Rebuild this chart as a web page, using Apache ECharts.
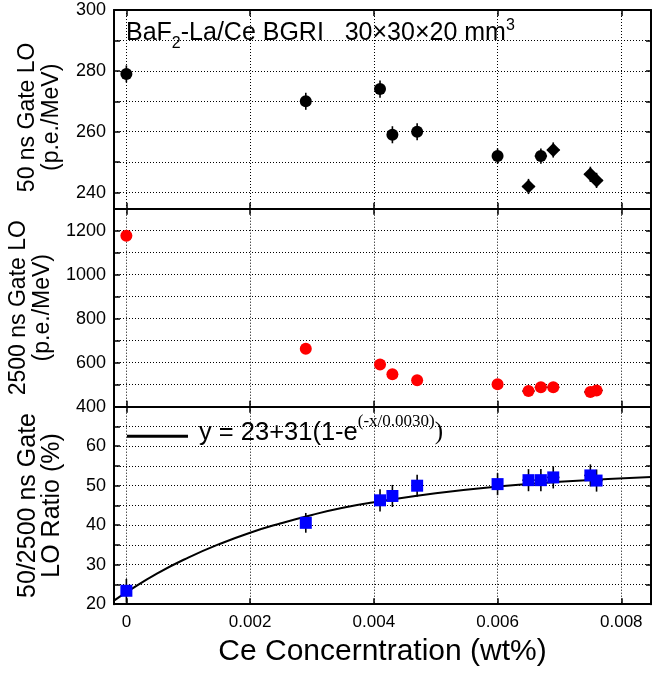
<!DOCTYPE html>
<html>
<head>
<meta charset="utf-8">
<script src="https://cdn.jsdelivr.net/npm/echarts@6/dist/echarts.min.js"></script>
<style>html,body{margin:0;padding:0;background:#fff}#c{width:659px;height:673px}</style>
</head>
<body>
<div id="c"></div>
<script>
// ---- data ----
const ceConc   = [0, 0.0029, 0.0041, 0.0043, 0.0047, 0.0060, 0.0065, 0.0067, 0.0069, 0.0075, 0.0076];
const ceErr    = [0, 0, 0, 0, 0, 0, 0.0001, 0.0001, 0.0001, 0.0001, 0.0001];
const lo50     = [279, 270, 274, 259, 260, 252, 242, 252, 254, 246, 244];
const lo50Err  = [2.8, 2.8, 2.8, 2.8, 2.8, 2.5, 2.5, 2.5, 2.5, 2.5, 2.5];
const lo2500   = [1177, 663, 592, 547, 520, 502, 471, 488, 488, 467, 474];
const ratio    = [23.4, 40.6, 46.3, 47.4, 50.0, 50.4, 51.4, 51.4, 52.1, 52.6, 51.3];
const ratioErr = [3.0, 2.5, 2.8, 2.8, 2.8, 2.8, 2.8, 2.8, 2.8, 2.8, 2.8];
// fitted curve as drawn: y = 23+31(1-e^(-x/0.0030))
const fitX = [-0.0002, 0, 0.0005, 0.001, 0.0015, 0.002, 0.0025, 0.003, 0.0035, 0.004, 0.005, 0.006, 0.007, 0.00848];
const fitY = [20.9, 23.0, 27.8, 31.8, 35.2, 38.1, 40.5, 42.6, 44.4, 45.8, 48.1, 49.8, 51.0, 52.2];
// tick labels
const xTickLabels   = [0, 0.002, 0.004, 0.006, 0.008];
const lo50Labels    = [240, 260, 280, 300];
const lo50Minor     = [250, 270, 290];
const lo2500Labels  = [400, 600, 800, 1000, 1200];
const lo2500Minor   = [500, 700, 900, 1100];
const ratioLabels   = [20, 30, 40, 50, 60];
const ratioMinor    = [25, 35, 45, 55, 65];

// ---- styling helpers ----
const FONT = 'Liberation Sans, Arial, sans-serif';
const SERIF = 'Liberation Serif, Times New Roman, serif';
const diamondIdx = [6, 8, 9, 10];

const X_MIN = -0.0002, X_MAX = 0.00848;
const grids = [
  {left: 114, right: 8, top: 10, height: 198.7, outerBoundsMode: 'none'},
  {left: 114, right: 8, top: 208.7, height: 198, outerBoundsMode: 'none'},
  {left: 114, right: 8, top: 406.7, height: 197.5, outerBoundsMode: 'none'}
];
const yRanges = [
  {min: 234.7, max: 300, labels: lo50Labels, minor: lo50Minor, split: 3,
   name: '50 ns Gate LO\n(p.e./MeV)', pad: [0, 16, 0, 0], fs: 23},
  {min: 400, max: 1300, labels: lo2500Labels, minor: lo2500Minor, interval: 200,
   name: '2500 ns Gate LO\n(p.e./MeV)', pad: [0, 0, 0, 0], fs: 23},
  {min: 20, max: 70, labels: ratioLabels, minor: ratioMinor, interval: 10,
   name: '50/2500 ns Gate\nLO Ratio (%)', pad: [0, 0, 0, 0], fs: 25}
];

const axisLine = {show: true, onZero: false, lineStyle: {color: '#000', width: 2}};
const dotted = {show: true, lineStyle: {color: '#000', width: 1, type: [1, 2]}};

const xAxes = [], yAxes = [];
grids.forEach((g, gi) => {
  const last = gi === 2;
  xAxes.push({
    type: 'value', gridIndex: gi, position: 'bottom', min: X_MIN, max: X_MAX, splitNumber: 4,
    axisLine,
    axisTick: {show: true, inside: true, length: 6, lineStyle: {color: '#000', width: 1.5}, customValues: xTickLabels},
    axisLabel: last ? {show: true, customValues: xTickLabels, fontSize: 17, fontFamily: FONT, color: '#000', margin: 10,
                       formatter: v => String(v)} : {show: false},
    splitLine: dotted,
    name: last ? 'Ce Concerntration (wt%)' : '',
    nameLocation: 'middle', nameGap: 33,
    nameTextStyle: {fontSize: 30, fontFamily: FONT, color: '#000'}
  });
  xAxes.push({
    type: 'value', gridIndex: gi, position: 'top', min: X_MIN, max: X_MAX, splitNumber: 4,
    axisLine,
    axisTick: {show: true, inside: true, length: 6, lineStyle: {color: '#000', width: 1.5}, customValues: xTickLabels},
    axisLabel: {show: false}, splitLine: {show: false}
  });
  const r = yRanges[gi];
  const ticks = r.labels.concat(r.minor);
  const base = {type: 'value', gridIndex: gi, min: r.min, max: r.max};
  if (r.interval) base.interval = r.interval; else base.splitNumber = r.split;
  yAxes.push(Object.assign({}, base, {
    position: 'left', axisLine,
    axisTick: {show: true, inside: true, length: 6, lineStyle: {color: '#000', width: 1.5}, customValues: ticks},
    axisLabel: {show: true, customValues: r.labels, fontSize: 18, fontFamily: FONT, color: '#000', margin: 8,
                formatter: v => String(v)},
    splitLine: dotted,
    name: r.name, nameLocation: 'middle', nameRotate: 90, nameGap: 50,
    nameTextStyle: {fontSize: r.fs, lineHeight: 24, fontFamily: FONT, color: '#000', align: 'center', padding: r.pad}
  }));
  yAxes.push(Object.assign({}, base, {
    position: 'right', axisLine,
    axisTick: {show: true, inside: true, length: 5, lineStyle: {color: '#000', width: 1.5}, customValues: ticks},
    axisLabel: {show: false}, splitLine: {show: false}
  }));
});

function errRender(params, api) {
  const x = api.value(0), y = api.value(1), ey = api.value(2), ex = api.value(3);
  const ch = [];
  const st = {stroke: '#000', lineWidth: 1.6};
  if (ey > 0) {
    const a = api.coord([x, y - ey]), b = api.coord([x, y + ey]);
    ch.push({type: 'line', shape: {x1: a[0], y1: a[1], x2: b[0], y2: b[1]}, style: st});
  }
  if (ex > 0) {
    const a = api.coord([x - ex, y]), b = api.coord([x + ex, y]);
    ch.push({type: 'line', shape: {x1: a[0], y1: a[1], x2: b[0], y2: b[1]}, style: st});
  }
  return {type: 'group', children: ch};
}

const topData = ceConc.map((x, i) => ({
  value: [x, lo50[i]],
  symbol: diamondIdx.includes(i) ? 'diamond' : 'circle',
  symbolSize: diamondIdx.includes(i) ? 14 : 12
}));

const option = {
  animation: false,
  backgroundColor: '#fff',
  grid: grids,
  xAxis: xAxes,
  yAxis: yAxes,
  legend: {
    show: true, left: 127, top: 413, padding: 0, selectedMode: false,
    itemWidth: 61, itemHeight: 3,
    data: [{name: 'fit', icon: 'rect'}],
    formatter: () => '{a|y = 23+31(1-e}{b|(-x/0.0030)}{c|)}',
    textStyle: {
      padding: [0, 0, 15.5, 6], color: '#000',
      rich: {
        a: {fontSize: 25.5, fontFamily: FONT, padding: [9, 0, 0, 0], verticalAlign: 'top', color: '#000'},
        b: {fontSize: 17, fontFamily: SERIF, padding: [2, 0, 0, 0], verticalAlign: 'top', color: '#000'},
        c: {fontSize: 25, fontFamily: SERIF, padding: [9, 0, 0, 0], verticalAlign: 'top', color: '#000'}
      }
    }
  },
  graphic: [{
    type: 'text', left: 126, top: 18, silent: true,
    style: {
      text: '{a|BaF}{s|2}{a|-La/Ce BGRI   30×30×20 mm}{p|3}',
      rich: {
        a: {fontSize: 25, fontFamily: FONT, padding: [2.5, 0, 0, 0], verticalAlign: 'top', fill: '#000'},
        s: {fontSize: 16, fontFamily: FONT, padding: [18, 0, 0, 0], verticalAlign: 'top', fill: '#000'},
        p: {fontSize: 16, fontFamily: FONT, padding: [0, 0, 0, 0], verticalAlign: 'top', fill: '#000'}
      }
    }
  }],
  series: [
    {type: 'custom', name: 'err50', xAxisIndex: 0, yAxisIndex: 0, renderItem: errRender,
     encode: {x: 0, y: 1}, z: 2, data: ceConc.map((x, i) => [x, lo50[i], lo50Err[i], ceErr[i]])},
    {type: 'scatter', name: 'lo50', xAxisIndex: 0, yAxisIndex: 0, z: 3,
     itemStyle: {color: '#000', opacity: 1}, data: topData},
    {type: 'custom', name: 'err2500', xAxisIndex: 2, yAxisIndex: 2, renderItem: errRender,
     encode: {x: 0, y: 1}, z: 2, data: ceConc.map((x, i) => [x, lo2500[i], 0, ceErr[i]])},
    {type: 'scatter', name: 'lo2500', xAxisIndex: 2, yAxisIndex: 2, z: 3, symbol: 'circle', symbolSize: 12,
     itemStyle: {color: '#ff0000', opacity: 1}, data: ceConc.map((x, i) => [x, lo2500[i]])},
    {type: 'line', name: 'fit', xAxisIndex: 4, yAxisIndex: 4, z: 2, smooth: true, showSymbol: false, symbol: 'none',
     lineStyle: {color: '#000', width: 2}, itemStyle: {color: '#000'}, clip: true,
     data: fitX.map((x, i) => [x, fitY[i]])},
    {type: 'custom', name: 'errRatio', xAxisIndex: 4, yAxisIndex: 4, renderItem: errRender,
     encode: {x: 0, y: 1}, z: 3, data: ceConc.map((x, i) => [x, ratio[i], ratioErr[i], ceErr[i]])},
    {type: 'scatter', name: 'ratio', xAxisIndex: 4, yAxisIndex: 4, z: 4, symbol: 'rect', symbolSize: 12,
     itemStyle: {color: '#0000ff', opacity: 1}, data: ceConc.map((x, i) => [x, ratio[i]])}
  ]
};

const chart = echarts.init(document.getElementById('c'), null, {renderer: 'canvas'});
chart.setOption(option);
</script>
</body>
</html>
